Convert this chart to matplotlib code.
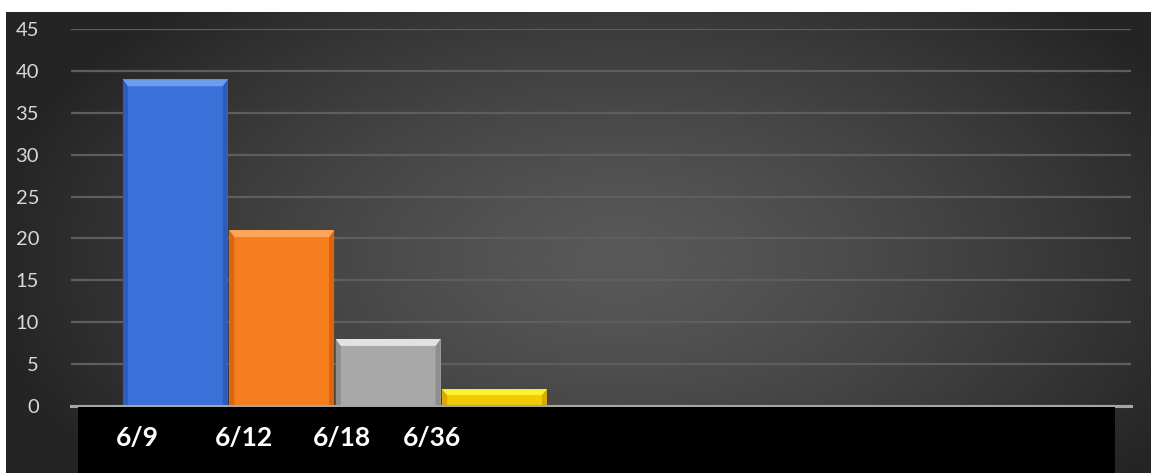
import numpy as np
import matplotlib
matplotlib.use("Agg")
import matplotlib.pyplot as plt
from matplotlib.patches import Polygon, Rectangle

# ---- data ----
categories = ["6/9", "6/12", "6/18", "6/36"]
values = [39, 21, 8, 2]
y_ticks = [0, 5, 10, 15, 20, 25, 30, 35, 40, 45]

# ---- style ----
body_colors = ["#3a70d8", "#f67d1e", "#a8a8a8", "#f2cc00"]
top_colors = ["#6c9ef0", "#ffa458", "#e2e2e2", "#fff030"]
side_colors = ["#2d5cbc", "#d9660f", "#8e8e8e", "#d6aa00"]
label_px = [137, 244, 342, 432]   # label centres in the black band (pixels)

W, H = 1151, 473
fig = plt.figure(figsize=(W / 100, H / 100), dpi=100)
fig.patch.set_facecolor("white")

# background panel with elliptical gradient
bg = fig.add_axes([6 / W, 0, (W - 6) / W, (H - 12) / H])
bg.set_axis_off()
nx, ny = 600, 250
xs = np.linspace(6, W, nx)
ys = np.linspace(12, H, ny)
X, Y = np.meshgrid(xs, ys)
r = np.sqrt(((X - 620) / 640) ** 2 + ((Y - 260) / 360) ** 2)
r = np.clip(r, 0, 1)
v = (0x59 - (0x59 - 0x24) * r ** 1.3) / 255.0
img = np.dstack([v, v, v])
bg.imshow(img, aspect="auto", extent=[0, 1, 0, 1], origin="upper")
bg.set_xlim(0, 1)
bg.set_ylim(0, 1)

# main axes
ax = fig.add_axes([71 / W, (H - 406) / H, (1131 - 71) / W, (406 - 29) / H])
ax.patch.set_alpha(0)
ax.set_xlim(-0.98, 8.98)
ax.set_ylim(0, 45)
ax.set_yticks(y_ticks)
ax.yaxis.grid(True, color="#5e5e5e", linewidth=1.6)
ax.set_axisbelow(True)
for s in ["top", "right", "left"]:
    ax.spines[s].set_visible(False)
ax.spines["bottom"].set_color("#a6a6a6")
ax.spines["bottom"].set_linewidth(2.2)
ax.spines["bottom"].set_zorder(5)
ax.tick_params(axis="y", length=0, pad=23, labelcolor="#d9d9d9", labelsize=14.5)
ax.tick_params(axis="x", length=0, labelbottom=False)
for lab in ax.get_yticklabels():
    lab.set_fontfamily("Lato")

x = np.arange(len(values))
bars = ax.bar(x, values, width=0.985, color=body_colors, zorder=3, linewidth=0)

# bevel decoration
pxx = (1131 - 71) / (8.98 + 0.98)   # pixels per x unit
pxy = (406 - 29) / 45                # pixels per y unit
for i, b in enumerate(bars):
    x0, w, h = b.get_x(), b.get_width(), b.get_height()
    x1 = x0 + w
    dx = 5 / pxx
    dy = min(7 / pxy, h * 0.35)
    # sides
    ax.add_patch(Polygon([[x0, 0], [x0, h], [x0 + dx, h - dy], [x0 + dx, 0]],
                         closed=True, color=side_colors[i], zorder=4, lw=0))
    ax.add_patch(Polygon([[x1, 0], [x1, h], [x1 - dx, h - dy], [x1 - dx, 0]],
                         closed=True, color=side_colors[i], zorder=4, lw=0))
    # top bevel
    ax.add_patch(Polygon([[x0, h], [x1, h], [x1 - dx, h - dy], [x0 + dx, h - dy]],
                         closed=True, color=top_colors[i], zorder=4, lw=0))

# black label band
fig.patches.append(Rectangle((78 / W, 0), (1115 - 78) / W, (H - 407) / H,
                             transform=fig.transFigure, facecolor="black",
                             edgecolor="none", zorder=1))
for lab, px in zip(categories, label_px):
    fig.text(px / W, (H - 438) / H, lab, color="white", fontsize=19,
             fontweight="bold", fontfamily="Lato", ha="center", va="center",
             zorder=6)

fig.savefig("out.png", dpi=100, facecolor=fig.get_facecolor())
